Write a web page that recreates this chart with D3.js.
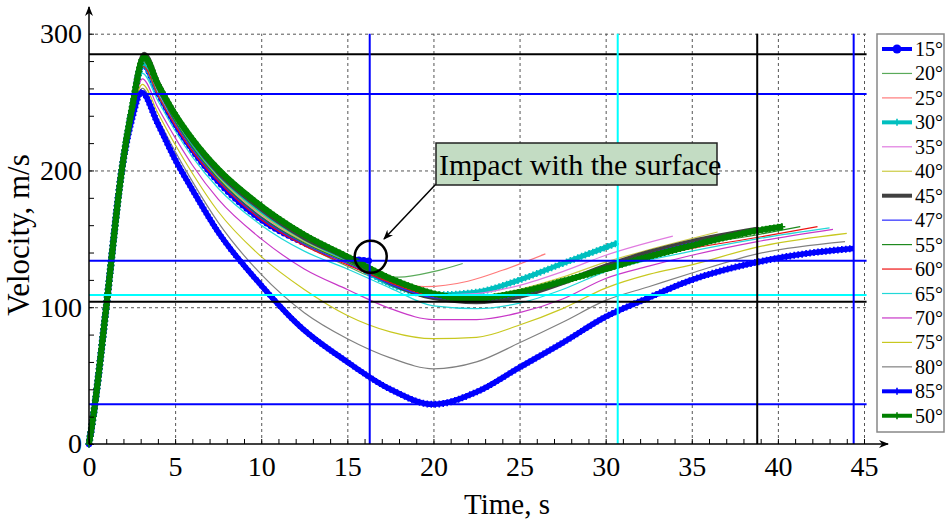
<!DOCTYPE html>
<html>
<head>
<meta charset="utf-8">
<script src="https://cdn.jsdelivr.net/npm/d3@7"></script>
<style>
  body { margin: 0; background: #fff; }
  text { font-family: "Liberation Serif", "Times New Roman", serif; fill: #000; }
</style>
</head>
<body>
<svg id="chart" width="947" height="525"></svg>
<script>
const FONT = "Liberation Serif, Times New Roman, serif";

// launch angles, in legend order
const labels = ["15°", "20°", "25°", "30°", "35°", "40°", "45°", "47°", "55°", "60°", "65°", "70°", "75°", "80°", "85°", "50°"];

// boost phase, shared by all runs
const riseT = [0, 0.3, 1.0, 1.9];
const riseV = [0, 25, 100, 200];

// time (s) and velocity (m/s) after the boost, one pair per angle
const t15 = [2.5, 3.1, 4, 5, 6, 7.5, 10, 12.5, 14.5, 15.5, 16.3];
const v15 = [245, 278, 257, 234, 215, 192, 164, 147, 137, 135, 134];
const t20 = [2.5, 3.15, 4, 5, 6, 7.5, 10, 12.5, 15, 16.7, 18, 20, 21.7];
const v20 = [245, 280, 259, 236, 217, 194, 167, 146, 130, 122, 122, 126, 132];
const t25 = [2.5, 3.15, 4, 5, 6, 7.5, 10, 12.5, 15, 17.5, 19.5, 22, 24, 26.5];
const v25 = [245, 279, 258, 236, 217, 195, 168, 147, 132, 120, 115, 119, 127, 139];
const t30 = [2.5, 3.15, 4, 5, 6, 7.5, 10, 12.5, 15, 17.5, 20, 22.5, 25, 27.5, 30.7];
const v30 = [245, 278, 258, 237, 219, 197, 170, 150, 134, 117, 109, 111, 120, 132, 147];
const t35 = [2.5, 3.15, 4, 5, 6, 7.5, 10, 12.5, 15, 17.5, 20, 22.5, 25, 27.5, 30, 33.9];
const v35 = [245, 280, 258, 235, 216, 194, 167, 147, 132, 118, 109, 110, 116, 126, 138, 152];
const t40 = [2.5, 3.15, 4, 5, 6, 7.5, 10, 12.5, 15, 17.5, 20, 22.5, 25, 27.5, 30, 32.5, 36.5];
const v40 = [245, 281, 259, 236, 217, 195, 168, 148, 133, 118, 108, 107, 113, 122, 133, 142, 155];
const t45 = [2.5, 3.2, 4, 5, 6, 7.5, 10, 12.5, 15, 17.5, 20, 22.5, 25, 27.5, 30, 32.5, 35, 38.8];
const v45 = [246, 285, 264, 241, 222, 199, 172, 151, 136, 118, 107, 104, 108, 118, 130, 140, 148, 157];
const t47 = [2.5, 3.15, 4, 5, 6, 7.5, 10, 12.5, 15, 17.5, 20, 22.5, 25, 27.5, 30, 35, 39.6];
const v47 = [245, 281, 259, 235, 216, 193, 165, 146, 132, 117, 107, 105, 109, 118, 129, 147, 157];
const t55 = [2.5, 3.15, 4, 5, 6, 7.5, 10, 12.5, 15, 17.5, 20, 22.5, 25, 27.5, 30, 35, 38.8, 41.3];
const v55 = [245, 280, 259, 236, 217, 194, 166, 147, 133, 119, 109, 107, 111, 119, 129, 145, 153, 159];
const t60 = [2.5, 3.15, 4, 5, 6, 7.5, 10, 12.5, 15, 17.5, 20, 22.5, 25, 27.5, 30, 35, 38.8, 42.3];
const v60 = [245, 276, 255, 233, 214, 192, 164, 145, 131, 118, 108, 106, 110, 118, 128, 143, 151, 159];
const t65 = [2.5, 3.1, 4, 5, 6, 7.5, 10, 12.5, 15, 17.5, 20, 22.5, 25, 27.5, 30, 35, 38.8, 43];
const v65 = [243, 271, 251, 229, 210, 187, 160, 141, 128, 114, 101, 99, 103, 113, 126, 141, 150, 158];
const t70 = [2.5, 3.1, 4, 5, 6, 7.5, 10, 12.5, 15, 17.5, 20, 22.5, 25, 27.5, 30, 32.5, 35, 38.8, 43.2];
const v70 = [240, 267, 246, 224, 204, 179, 150, 128, 113, 99, 91, 91, 96, 106, 121, 130, 138, 148, 157];
const t75 = [2.5, 3.1, 4, 5, 6, 7.5, 10, 12.5, 15, 17.5, 20, 22.5, 25, 27.5, 30, 32.5, 35, 38.8, 44];
const v75 = [240, 263, 242, 219, 198, 170, 137, 113, 94, 82, 77, 78, 87, 99, 114, 124, 131, 144, 154];
const t80 = [2.5, 3.1, 4, 5, 6, 7.5, 10, 12.5, 15, 17.5, 20, 22.5, 25, 27.5, 30, 32.5, 35, 38.8, 43.9];
const v80 = [240, 260, 238, 214, 192, 162, 124, 96, 77, 63, 55, 60, 74, 89, 105, 115, 125, 139, 148];
const t85 = [2.5, 3.05, 4, 5, 6, 7.5, 10, 12.25, 15, 17.5, 20, 22.5, 25, 27.5, 30, 32.5, 35, 38.8, 41.5, 44.4];
const v85 = [238, 257, 234, 208, 186, 155, 116, 86, 60, 40, 29, 38, 56, 74, 93, 107, 120, 133, 139, 143];
const t50 = [2.5, 3.2, 4, 5, 6, 7.5, 10, 12.5, 15, 17.5, 20, 22.1, 25, 27.5, 30, 32.5, 35, 38.8, 40.3];
const v50 = [246, 283, 263, 241, 223, 201, 174, 153, 137, 121, 110, 106, 111, 119, 128, 137, 145, 156, 159];

const seriesT = [t15, t20, t25, t30, t35, t40, t45, t47, t55, t60, t65, t70, t75, t80, t85, t50];
const seriesV = [v15, v20, v25, v30, v35, v40, v45, v47, v55, v60, v65, v70, v75, v80, v85, v50];

// marker lines (min / max velocity and end of flight)
const hLineValues = [285, 256, 134, 109, 104, 29];
const vLineTimes = [16.3, 30.7, 38.8, 44.4];

const xTicks = [0, 5, 10, 15, 20, 25, 30, 35, 40, 45];
const yTicks = [0, 100, 200, 300];

// styles
const colors = ["#0000ff", "#5aaa5a", "#ff7a7a", "#00bfbf", "#e07be0", "#cccc44", "#404040", "#2a2aff",
                "#1f8a1f", "#ee1111", "#22d8d8", "#c838c8", "#c8c820", "#808080", "#0000ff", "#008000"];
const widths = [5, 1.2, 1.2, 5, 1.2, 1.2, 5, 1.2, 1.2, 1.2, 1.2, 1.2, 1.2, 1.2, 5.5, 6];
const markers = ["dot", null, null, "plus", null, null, null, null, null, null, null, null, null, null, "plus", "plus"];
const hLineColors = ["#000000", "#0000ff", "#0000ff", "#00ffff", "#000000", "#0000ff"];
const vLineColors = ["#0000ff", "#00ffff", "#000000", "#0000ff"];

const svg = d3.select("#chart");

const x = d3.scaleLinear().domain([0, 45]).range([89, 864]);
const y = d3.scaleLinear().domain([0, 300]).range([444, 33.7]);

// arrow heads
const defs = svg.append("defs");
defs.append("marker")
  .attr("id", "arrow")
  .attr("viewBox", "0 0 10 10")
  .attr("refX", 9).attr("refY", 5)
  .attr("markerWidth", 10).attr("markerHeight", 10)
  .attr("markerUnits", "userSpaceOnUse")
  .attr("orient", "auto")
  .append("path")
  .attr("d", "M0,1 L10,5 L0,9 L3,5 Z")
  .attr("fill", "#000");

// dashed grid
svg.append("g")
  .attr("transform", `translate(0,${y(0)})`)
  .call(d3.axisBottom(x).tickValues(xTicks.slice(1)).tickSize(-(y(0) - y(300))).tickFormat(""))
  .call(g => g.select(".domain").remove())
  .selectAll("line")
  .attr("stroke", "#555")
  .attr("stroke-dasharray", "3,3");

svg.append("g")
  .attr("transform", `translate(${x(0)},0)`)
  .call(d3.axisLeft(y).tickValues(yTicks.slice(1)).tickSize(-(x(45.15) - x(0))).tickFormat(""))
  .call(g => g.select(".domain").remove())
  .selectAll("line")
  .attr("stroke", "#555")
  .attr("stroke-dasharray", "3,3");

// curves
const line = d3.line()
  .x(d => x(d[0]))
  .y(d => y(d[1]))
  .curve(d3.curveMonotoneX);

function drawMarkers(g, node, kind, color) {
  const len = node.getTotalLength();
  const step = kind === "dot" ? 5 : 4;
  const pts = [];
  for (let s = 0; s <= len; s += step) pts.push(node.getPointAtLength(s));
  if (kind === "dot") {
    g.selectAll("circle.m").data(pts).enter().append("circle")
      .attr("class", "m")
      .attr("cx", p => p.x).attr("cy", p => p.y)
      .attr("r", 3.2)
      .attr("fill", color);
  } else {
    g.selectAll("path.m").data(pts).enter().append("path")
      .attr("class", "m")
      .attr("d", p => `M${p.x - 3.5},${p.y}H${p.x + 3.5}M${p.x},${p.y - 3.5}V${p.y + 3.5}`)
      .attr("stroke", color)
      .attr("stroke-width", 1.6);
  }
}

const curves = svg.append("g");
labels.forEach((lab, i) => {
  const pts = d3.zip(riseT.concat(seriesT[i]), riseV.concat(seriesV[i]));
  const g = curves.append("g");
  const p = g.append("path")
    .datum(pts)
    .attr("d", line)
    .attr("fill", "none")
    .attr("stroke", colors[i])
    .attr("stroke-width", widths[i])
    .attr("stroke-linejoin", "round");
  if (markers[i]) drawMarkers(g, p.node(), markers[i], colors[i]);
});

// reference lines
svg.append("g").selectAll("line")
  .data(hLineValues)
  .enter().append("line")
  .attr("x1", x(0)).attr("x2", x(45.15))
  .attr("y1", d => y(d)).attr("y2", d => y(d))
  .attr("stroke", (d, i) => hLineColors[i])
  .attr("stroke-width", 2);

svg.append("g").selectAll("line")
  .data(vLineTimes)
  .enter().append("line")
  .attr("x1", d => x(d)).attr("x2", d => x(d))
  .attr("y1", y(0)).attr("y2", y(300))
  .attr("stroke", (d, i) => vLineColors[i])
  .attr("stroke-width", 2);

// axes
svg.append("g")
  .attr("transform", `translate(0,${y(0)})`)
  .call(d3.axisTop(x).tickValues(d3.range(0, 46, 1)).tickSize(5).tickFormat(""))
  .call(g => g.select(".domain").remove())
  .selectAll("line").attr("stroke", "#000");

svg.append("g")
  .attr("transform", `translate(${x(0)},0)`)
  .call(d3.axisRight(y).tickValues(d3.range(0, 301, 20)).tickSize(5).tickFormat(""))
  .call(g => g.select(".domain").remove())
  .selectAll("line").attr("stroke", "#000");

svg.append("g")
  .attr("transform", `translate(0,${y(0)})`)
  .attr("font-family", FONT)
  .call(d3.axisBottom(x).tickValues(xTicks).tickSize(0).tickPadding(12))
  .call(g => g.select(".domain").remove())
  .selectAll("text")
  .attr("font-size", 28)
  .attr("font-family", FONT);

svg.append("g")
  .attr("transform", `translate(${x(0)},0)`)
  .call(d3.axisLeft(y).tickValues(yTicks).tickSize(0).tickPadding(7))
  .call(g => g.select(".domain").remove())
  .selectAll("text")
  .attr("font-size", 28)
  .attr("font-family", FONT);

svg.append("line")
  .attr("x1", x(0)).attr("x2", 888)
  .attr("y1", y(0)).attr("y2", y(0))
  .attr("stroke", "#000").attr("stroke-width", 1.5)
  .attr("marker-end", "url(#arrow)");

svg.append("line")
  .attr("x1", x(0)).attr("x2", x(0))
  .attr("y1", y(0)).attr("y2", 7)
  .attr("stroke", "#000").attr("stroke-width", 1.5)
  .attr("marker-end", "url(#arrow)");

// axis titles
svg.append("text")
  .attr("x", 507).attr("y", 514)
  .attr("text-anchor", "middle")
  .attr("font-family", FONT)
  .attr("font-size", 29)
  .text("Time, s");

svg.append("text")
  .attr("transform", "rotate(-90)")
  .attr("x", -235).attr("y", 29)
  .attr("text-anchor", "middle")
  .attr("font-family", FONT)
  .attr("font-size", 31)
  .text("Velocity, m/s");

// impact annotation
const impactT = t15[t15.length - 1], impactV = v15[v15.length - 1];
svg.append("circle")
  .attr("cx", x(impactT) + 1).attr("cy", y(impactV) - 4)
  .attr("r", 16)
  .attr("fill", "none")
  .attr("stroke", "#000")
  .attr("stroke-width", 2.5);

svg.append("line")
  .attr("x1", 436).attr("y1", 184)
  .attr("x2", 384).attr("y2", 239)
  .attr("stroke", "#000").attr("stroke-width", 1.5)
  .attr("marker-end", "url(#arrow)");

svg.append("rect")
  .attr("x", 436).attr("y", 143)
  .attr("width", 281).attr("height", 42)
  .attr("fill", "#c3dcc3")
  .attr("stroke", "#222")
  .attr("stroke-width", 1.5);

svg.append("text")
  .attr("x", 439).attr("y", 175)
  .attr("font-family", FONT)
  .attr("font-size", 30)
  .text("Impact with the surface");

// legend
const legend = svg.append("g").attr("transform", "translate(877,34)");
legend.append("rect")
  .attr("width", 67).attr("height", 398)
  .attr("fill", "#fff")
  .attr("stroke", "#888")
  .attr("stroke-width", 1.5);

const rows = legend.selectAll("g.row")
  .data(labels)
  .enter().append("g")
  .attr("class", "row")
  .attr("transform", (d, i) => `translate(0,${15 + i * 24.45})`);

rows.append("line")
  .attr("x1", 5).attr("x2", 35)
  .attr("stroke", (d, i) => colors[i])
  .attr("stroke-width", (d, i) => widths[i] > 2 ? 4 : 1.2);

rows.filter((d, i) => markers[i] === "dot").append("circle")
  .attr("cx", 20).attr("r", 4.5)
  .attr("fill", colors[0]);

rows.filter((d, i) => markers[i] === "plus").append("path")
  .attr("d", "M16.5,0H23.5M20,-3.5V3.5")
  .attr("stroke", d => colors[labels.indexOf(d)])
  .attr("stroke-width", 1.6);

rows.append("text")
  .attr("x", 38)
  .attr("dy", "0.35em")
  .attr("font-family", FONT)
  .attr("font-size", 20)
  .text(d => d);
</script>
</body>
</html>
